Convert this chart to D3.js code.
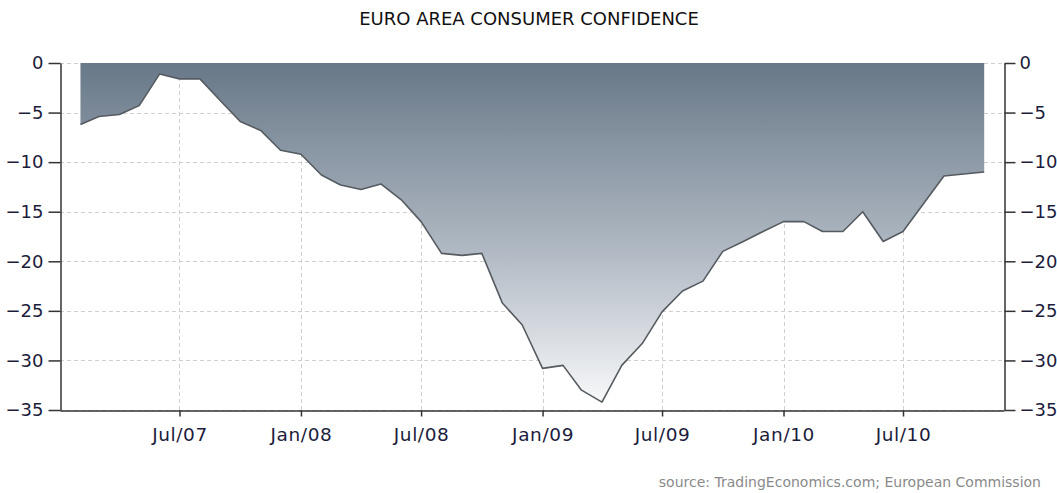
<!DOCTYPE html>
<html>
<head>
<meta charset="utf-8">
<script src="https://cdn.jsdelivr.net/npm/d3@7/dist/d3.min.js"></script>
<style>
  html, body { margin: 0; padding: 0; background: #fff; }
  svg { display: block; }
</style>
</head>
<body>
<svg id="chart" width="1057" height="493"></svg>
<script>
// ---- data ----
const months = [
  "2007-02","2007-03","2007-04","2007-05","2007-06","2007-07","2007-08","2007-09","2007-10","2007-11","2007-12",
  "2008-01","2008-02","2008-03","2008-04","2008-05","2008-06","2008-07","2008-08","2008-09","2008-10","2008-11","2008-12",
  "2009-01","2009-02","2009-03","2009-04","2009-05","2009-06","2009-07","2009-08","2009-09","2009-10","2009-11","2009-12",
  "2010-01","2010-02","2010-03","2010-04","2010-05","2010-06","2010-07","2010-08","2010-09","2010-10","2010-11"
];
const confidence = [
  -6.2, -5.4, -5.2, -4.3, -1.1, -1.6, -1.6, -3.8, -5.9, -6.8, -8.8,
  -9.2, -11.3, -12.3, -12.75, -12.2, -13.8, -16.0, -19.2, -19.4, -19.2, -24.2, -26.4,
  -30.8, -30.5, -33.0, -34.2, -30.5, -28.3, -25.1, -23.0, -22.0, -19.0, -18.0, -17.0,
  -16.0, -16.0, -17.0, -17.0, -15.0, -18.0, -17.0, -14.2, -11.4, -11.2, -11.0
];
const yTicks = [0, -5, -10, -15, -20, -25, -30, -35];
const xTickDates = ["2007-07","2008-01","2008-07","2009-01","2009-07","2010-01","2010-07"];
const xTickLabels = ["Jul/07","Jan/08","Jul/08","Jan/09","Jul/09","Jan/10","Jul/10"];
const titleText = "EURO AREA CONSUMER CONFIDENCE";
const sourceText = "source: TradingEconomics.com; European Commission";

(function () {
  const parse = d3.timeParse("%Y-%m");
  const data = months.map((m, i) => ({ date: parse(m), value: confidence[i] }));

  const pL = 60, pR = 1004, pT = 63, pB = 410;
  const svg = d3.select("#chart");

  const x = d3.scaleTime()
    .domain([parse("2007-01"), parse("2010-12")])
    .range([pL, pR]);
  const y = d3.scaleLinear().domain([0, -35]).range([pT, pB]);

  const font = "Tahoma, 'DejaVu Sans', Verdana, sans-serif";

  const defs = svg.append("defs");
  const grad = defs.append("linearGradient")
    .attr("id", "fillGrad")
    .attr("gradientUnits", "userSpaceOnUse")
    .attr("x1", 0).attr("x2", 0)
    .attr("y1", y(0)).attr("y2", y(-35));
  grad.append("stop").attr("offset", "0%").attr("stop-color", "#687888");
  grad.append("stop").attr("offset", "55%").attr("stop-color", "#b1bac4");
  grad.append("stop").attr("offset", "100%").attr("stop-color", "#fbfbfc");

  const grid = svg.append("g");
  grid.selectAll("line.h").data(yTicks).join("line")
    .attr("x1", pL).attr("x2", pR)
    .attr("y1", d => Math.round(y(d)) + 0.5).attr("y2", d => Math.round(y(d)) + 0.5)
    .attr("stroke", "#cfcfcf").attr("stroke-dasharray", "4,3").attr("stroke-width", 1);
  grid.selectAll("line.v").data(xTickDates).join("line")
    .attr("x1", d => Math.round(x(parse(d))) + 0.5).attr("x2", d => Math.round(x(parse(d))) + 0.5)
    .attr("y1", pT).attr("y2", pB)
    .attr("stroke", "#cfcfcf").attr("stroke-dasharray", "4,3").attr("stroke-width", 1);

  const area = d3.area()
    .x(d => x(d.date))
    .y0(y(0))
    .y1(d => y(d.value));
  svg.append("path").datum(data)
    .attr("d", area)
    .attr("fill", "url(#fillGrad)");

  const line = d3.line().x(d => x(d.date)).y(d => y(d.value));
  svg.append("path").datum(data)
    .attr("d", line)
    .attr("fill", "none")
    .attr("stroke", "#555b60")
    .attr("stroke-width", 1.6)
    .attr("stroke-linejoin", "round");

  const axisColor = "#333";
  const labelColor = "#1c1c3c";

  const yLeft = d3.axisLeft(y).tickValues(yTicks).tickSize(12).tickPadding(5).tickSizeOuter(0);
  const gL = svg.append("g").attr("transform", `translate(${pL + 0.5},0)`).call(yLeft);
  const yRight = d3.axisRight(y).tickValues(yTicks).tickSize(11).tickPadding(4).tickSizeOuter(0);
  const gR = svg.append("g").attr("transform", `translate(${pR + 0.5},0)`).call(yRight);

  const xAxis = d3.axisBottom(x)
    .tickValues(xTickDates.map(parse))
    .tickFormat((d, i) => xTickLabels[i])
    .tickSize(6).tickPadding(11).tickSizeOuter(0);
  const gX = svg.append("g").attr("transform", `translate(0,${pB + 0.5})`).call(xAxis);

  [gL, gR, gX].forEach(g => {
    g.select(".domain").attr("stroke", axisColor).attr("stroke-width", 1.5);
    g.selectAll(".tick line").attr("stroke", axisColor).attr("stroke-width", 1.5);
    g.selectAll(".tick text")
      .attr("fill", labelColor)
      .style("font-family", font)
      .style("font-size", "18px");
  });
  gX.selectAll(".tick text").style("font-size", "18.5px").style("letter-spacing", "0.6px");

  svg.append("text")
    .attr("x", 529).attr("y", 25)
    .attr("text-anchor", "middle")
    .style("font-family", font)
    .style("font-size", "18px")
    .attr("fill", "#111")
    .text(titleText);

  svg.append("text")
    .attr("x", 1041).attr("y", 487)
    .attr("text-anchor", "end")
    .style("font-family", font)
    .style("font-size", "14px")
    .attr("fill", "#8a8a8a")
    .text(sourceText);
})();
</script>
</body>
</html>
